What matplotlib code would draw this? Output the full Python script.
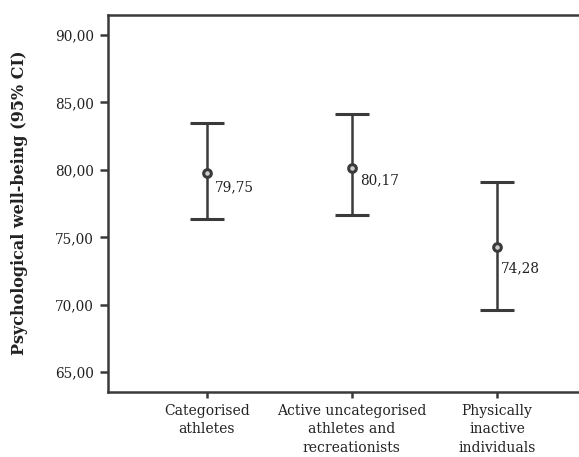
import numpy as np
import matplotlib.pyplot as plt

plt.rcParams['font.family'] = ['DejaVu Serif']

groups = ['Categorised\nathletes', 'Active uncategorised\nathletes and\nrecreationists',
          'Physically\ninactive\nindividuals']
means = [79.75, 80.17, 74.28]
ci_low = [76.35, 76.64, 69.63]
ci_high = [83.51, 84.15, 79.09]
mean_labels = ['79,75', '80,17', '74,28']
yticks = [65, 70, 75, 80, 85, 90]
ytick_labels = ['65,00', '70,00', '75,00', '80,00', '85,00', '90,00']

# label offsets in points (from the mean marker)
label_offsets = [(6, -10), (6, -9), (3, -15)]

dark = '#3a3a3a'

fig = plt.figure(figsize=(5.79, 4.57), dpi=100)
ax = fig.add_axes([107.7 / 579, 1 - 391.7 / 457, (596 - 107.7) / 579, (391.7 - 14.7) / 457])

x = np.arange(1, len(groups) + 1)
m = np.array(means)
err = [m - np.array(ci_low), np.array(ci_high) - m]
ax.errorbar(x, m, yerr=err, fmt='o', color=dark, ecolor=dark, elinewidth=1.8,
            capsize=12, capthick=1.8, ms=5.5, mfc='#cccccc', mec=dark, mew=2.2)

for xi, yi, lab, off in zip(x, means, mean_labels, label_offsets):
    ax.annotate(lab, (xi, yi), xytext=off, textcoords='offset points',
                ha='left', va='center', fontsize=9.8, color='#222222')

ax.set_xlim(0.317, 3.683)
ax.set_ylim(63.56, 91.5)
ax.set_xticks(x)
ax.set_xticklabels(groups, fontsize=10, color='#222222', linespacing=1.45)
ax.set_yticks(yticks)
ax.set_yticklabels(ytick_labels, fontsize=9.8, color='#222222')
ax.tick_params(axis='y', length=6, width=1.8, color=dark, pad=4)
ax.tick_params(axis='x', length=4.5, width=1.8, color=dark, pad=4)
for s in ax.spines.values():
    s.set_color(dark)
    s.set_linewidth(1.8)

ax.set_ylabel('Psychological well-being (95% CI)', fontsize=11.5, fontweight='bold',
              color='#222222', labelpad=19)

fig.savefig('out.png', dpi=100)
